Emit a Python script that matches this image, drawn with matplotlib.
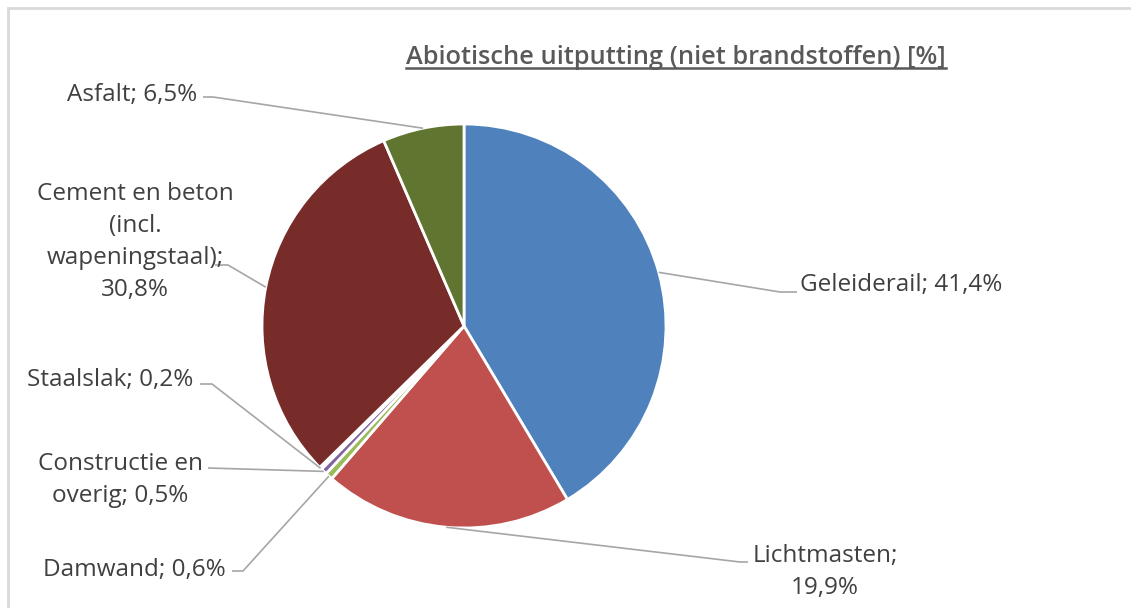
import numpy as np
import matplotlib
matplotlib.use("Agg")
import matplotlib.pyplot as plt
from matplotlib.patches import Rectangle

categories = ["Geleiderail", "Lichtmasten", "Damwand", "Constructie en overig",
              "Staalslak", "Cement en beton (incl. wapeningstaal)", "Asfalt"]
values = [41.4, 19.9, 0.6, 0.5, 0.2, 30.8, 6.5]
labels = ["Geleiderail; 41,4%", "Lichtmasten;\n19,9%", "Damwand; 0,6%",
          "Constructie en\noverig; 0,5%", "Staalslak; 0,2%",
          "Cement en beton\n(incl.\nwapeningstaal);\n30,8%", "Asfalt; 6,5%"]
colors = ["#4F81BD", "#C0504D", "#9BBB59", "#8064A2", "#4BACC6", "#772C2A", "#5F7530"]
title = "Abiotische uitputting (niet brandstoffen) [%]"

W, H = 1131, 608
fig = plt.figure(figsize=(W / 100, H / 100), dpi=100)
ax = fig.add_axes([0, 0, 1, 1])

def P(py):
    return H - py

FONT = ["Open Sans", "DejaVu Sans"]
TXT = "#404040"
LINE = "#A6A6A6"

cx, cy, r = 464, P(326), 202
wedges, _ = ax.pie(values, colors=colors, startangle=90, counterclock=False,
                   center=(cx, cy), radius=r, frame=True,
                   wedgeprops=dict(edgecolor="white", linewidth=2))
ax.set_xlim(0, W)
ax.set_ylim(0, H)
ax.set_aspect("equal")
ax.axis("off")

# chart frame
ax.add_patch(Rectangle((8, -20), W + 20, P(8) + 20, fill=False, ec="#D9D9D9", lw=2))

# label layout: (text x, text y(px), ha, elbow-start x, elbow x, elbow y(px))
layout = {
    0: (800, 285, "left", 797, 780, 292),
    1: (825, 572, "center", 748, 740, 562),
    2: (226, 570, "right", 232, 243, 571),
    3: (120, 480, "center", 208, 208, 468),
    4: (193, 380, "right", 200, 212, 384),
    5: (135, 242, "center", 215, 228, 265),
    6: (197, 95, "right", 203, 213, 97),
}

for i, w in enumerate(wedges):
    ang = np.deg2rad((w.theta1 + w.theta2) / 2)
    ex = cx + r * np.cos(ang)
    ey = cy + r * np.sin(ang)
    tx, ty, ha, sx, bx, by = layout[i]
    ax.text(tx, P(ty), labels[i], ha=ha, va="center", fontsize=17.5,
            family=FONT, color=TXT, linespacing=1.45, multialignment="center")
    ax.plot([sx, bx, ex], [P(by), P(by), ey], color=LINE, lw=1.2,
            solid_capstyle="butt")

t = ax.text(676, P(57), title, ha="center", va="center", fontsize=18.3,
            family=FONT, weight="semibold", color="#595959")
fig.canvas.draw()
bb = t.get_window_extent(renderer=fig.canvas.get_renderer())
inv = ax.transData.inverted()
(x0, y0), (x1, y1) = inv.transform([[bb.x0, bb.y0], [bb.x1, bb.y1]])
ax.plot([x0, x1], [y0 + 2, y0 + 2], color="#595959", lw=1.8)

fig.savefig("out.png", dpi=100)
